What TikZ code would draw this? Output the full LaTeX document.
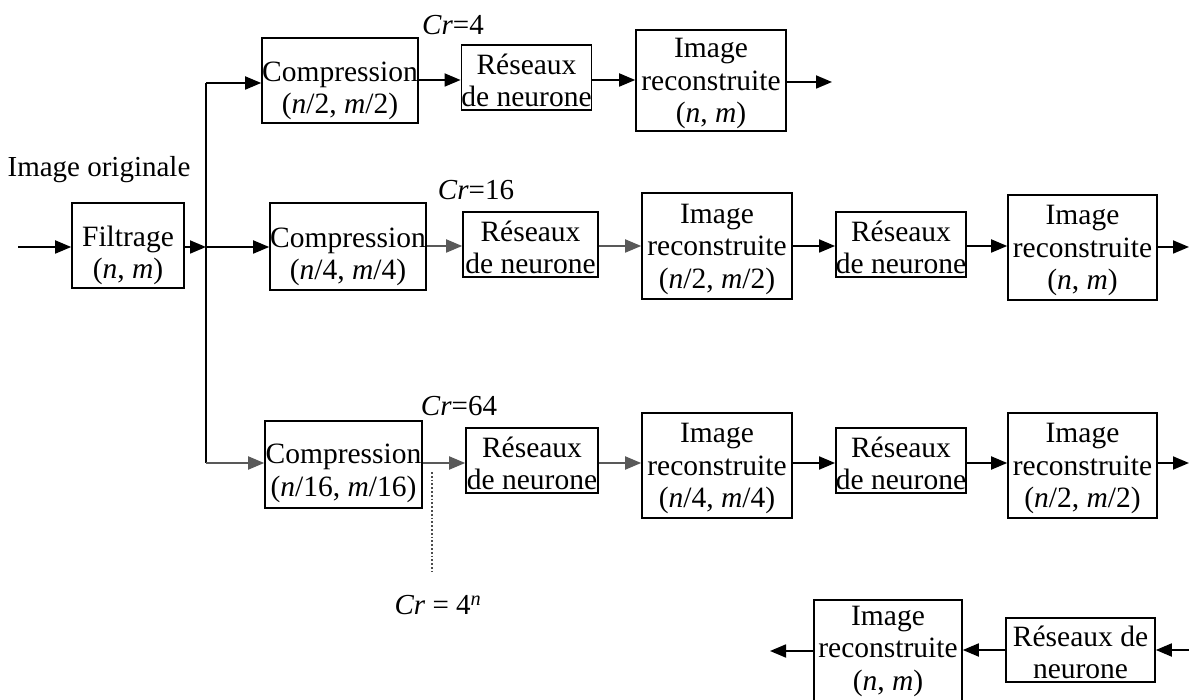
\documentclass[tikz,border=0pt]{standalone}
\usepackage{fontspec}
\setmainfont{Liberation Serif}
\usetikzlibrary{arrows.meta}
\newcommand{\lowby}[1]{\rule{0pt}{#1}}
\begin{document}
\begin{tikzpicture}[x=1pt,y=-1pt,
  box/.style={draw, line width=1.6pt, inner sep=0pt, align=center, font=\fontsize{29.5}{32.5}\selectfont},
  lbl/.style={inner sep=0pt, font=\fontsize{29}{32}\selectfont},
  arr/.style={line width=1.8pt, -{Triangle[length=16pt,width=13pt]}},
  ln/.style={line width=1.8pt},
  garr/.style={arr, draw=black!65},
  gln/.style={ln, draw=black!65}]
\useasboundingbox (0,0) rectangle (1189,700);
% boxes
\node[box, minimum width=112, minimum height=85] (filt) at (128,245.5) {\lowby{40pt}Filtrage\\(\textit{n}, \textit{m})};
\node[box, minimum width=156, minimum height=85] (c1) at (340,80.5) {\lowby{40pt}Compression\\(\textit{n}/2, \textit{m}/2)};
\node[box, minimum width=127, minimum height=65] (r1) at (526.5,77.5) {\lowby{26pt}Réseaux\\de neurone};
\node[box, minimum width=150, minimum height=101] (i1) at (711,80.5) {\lowby{25.5pt}Image\\reconstruite\\(\textit{n}, \textit{m})};
\node[box, minimum width=156, minimum height=87] (c2) at (348,246.5) {\lowby{40pt}Compression\\(\textit{n}/4, \textit{m}/4)};
\node[box, minimum width=135, minimum height=65] (r2) at (530.5,244.5) {\lowby{26pt}Réseaux\\de neurone};
\node[box, minimum width=150, minimum height=106] (i2) at (717,246) {\lowby{25.5pt}Image\\reconstruite\\(\textit{n}/2, \textit{m}/2)};
\node[box, minimum width=130, minimum height=65] (r3) at (901,244.5) {\lowby{26pt}Réseaux\\de neurone};
\node[box, minimum width=149, minimum height=105] (i3) at (1082.5,247.5) {\lowby{25.5pt}Image\\reconstruite\\(\textit{n}, \textit{m})};
\node[box, minimum width=157, minimum height=87] (c3) at (343.5,464.5) {\lowby{37pt}Compression\\(\textit{n}/16, \textit{m}/16)};
\node[box, minimum width=132, minimum height=65] (r4) at (532,460.5) {\lowby{26pt}Réseaux\\de neurone};
\node[box, minimum width=150, minimum height=105] (i4) at (717,465.5) {\lowby{25.5pt}Image\\reconstruite\\(\textit{n}/4, \textit{m}/4)};
\node[box, minimum width=130, minimum height=65] (r5) at (901,460.5) {\lowby{26pt}Réseaux\\de neurone};
\node[box, minimum width=149, minimum height=105] (i5) at (1082.5,465.5) {\lowby{25.5pt}Image\\reconstruite\\(\textit{n}/2, \textit{m}/2)};
\node[box, minimum width=149, minimum height=64] (r6) at (1080.5,650) {\lowby{25pt}Réseaux de\\neurone};
\node[box, minimum width=148, minimum height=102] (i6) at (888,651) {Image\\reconstruite\\(\textit{n}, \textit{m})};
% labels
\node[lbl] (orig) at (99,170) {Image originale};
\node[lbl] (cr4) at (453,25) {\textit{Cr}=4};
\node[lbl] (cr16) at (476,190) {\textit{Cr}=16};
\node[lbl] (cr64) at (459,406) {\textit{Cr}=64};
\node[lbl] (crn) at (438,605) {\textit{Cr} = 4\textsuperscript{\textit{n}}};
% coordinates
\coordinate (in) at (18,247);
\coordinate (j) at (206,247);
\coordinate (jt) at (206,83);
\coordinate (jb) at (206,463);
\coordinate (o1) at (832,82);
\coordinate (o2) at (1189,247);
\coordinate (o3) at (1189,463);
\coordinate (o6in) at (1189,650);
\coordinate (o6) at (770,651);
\coordinate (d1) at (432,472);
\coordinate (d2) at (432,572);
% connectors
\draw[arr] (in) -- (in -| filt.west);
\draw[arr] (filt.east |- j) -- (j);
\draw[ln] (jt) -- (jb);
\draw[arr] (jt) -- (jt -| c1.west);
\draw[arr] (j) -- (j -| c2.west);
\draw[gln,-{Triangle[length=16pt,width=13pt]}] (jb) -- (jb -| c3.west);
\draw[arr] (c1.east |- 0,80) -- (r1.west |- 0,80);
\draw[arr] (r1.east |- 0,80) -- (i1.west |- 0,80);
\draw[arr] (i1.east |- o1) -- (o1);
\draw[garr] (c2.east |- 0,246) -- (r2.west |- 0,246);
\draw[garr] (r2.east |- 0,246) -- (i2.west |- 0,246);
\draw[arr] (i2.east |- 0,246) -- (r3.west |- 0,246);
\draw[arr] (r3.east |- 0,246) -- (i3.west |- 0,246);
\draw[arr] (i3.east |- o2) -- (o2);
\draw[garr] (c3.east |- 0,463) -- (r4.west |- 0,463);
\draw[garr] (r4.east |- 0,463) -- (i4.west |- 0,463);
\draw[arr] (i4.east |- 0,463) -- (r5.west |- 0,463);
\draw[arr] (r5.east |- 0,463) -- (i5.west |- 0,463);
\draw[arr] (i5.east |- o3) -- (o3);
\draw[arr] (o6in) -- (o6in -| r6.east);
\draw[arr] (r6.west) -- (r6.west -| i6.east);
\draw[arr] (i6.west |- o6) -- (o6);
\draw[line width=1.8pt, dotted, draw=black!70] (d1) -- (d2);
\end{tikzpicture}
\end{document}
